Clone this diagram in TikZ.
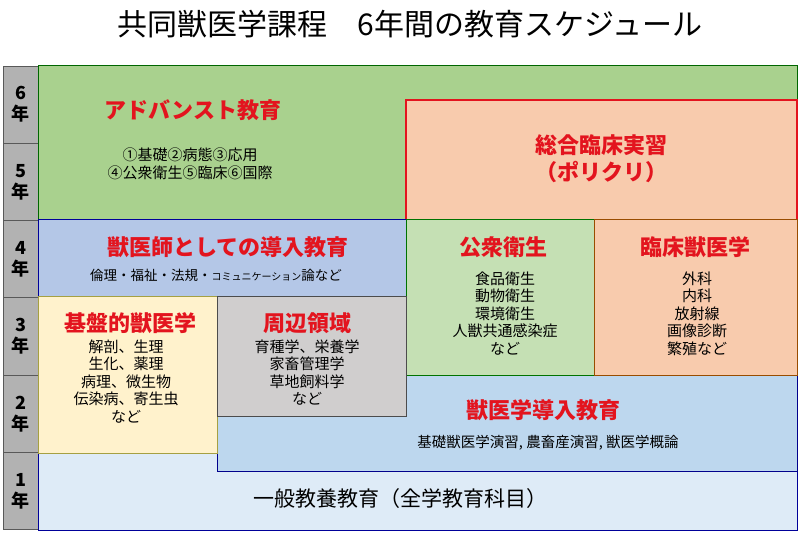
\documentclass[tikz,border=0pt]{standalone}
\usepackage{fontspec}
\setmainfont{Noto Sans CJK JP}
\definecolor{cgreen}{HTML}{A9D18E}
\definecolor{corange}{HTML}{F8CBAD}
\definecolor{cblue}{HTML}{B4C7E7}
\definecolor{cgreen2}{HTML}{C5E0B4}
\definecolor{cyel}{HTML}{FFF2CC}
\definecolor{cgray}{HTML}{D0CECE}
\definecolor{cblue2}{HTML}{BDD7EE}
\definecolor{cblue3}{HTML}{DEEBF7}
\definecolor{cred}{HTML}{E3141E}
\begin{document}
\begin{tikzpicture}[x=1pt,y=-1pt,
  yr/.style={draw=gray!70!black,fill=gray!60,line width=0.8pt},
  hd/.style={text=cred,font=\fontsize{22}{24}\selectfont\bfseries},
  bd/.style={font=\fontsize{15}{17.5}\selectfont,align=center},
  bx/.style={line width=1pt}]
\useasboundingbox (0,0) rectangle (800,534);
\node (title) at (410,24) {\fontsize{30}{32}\selectfont 共同獣医学課程\hspace{1em}6年間の教育スケジュール};
\foreach \i/\t in {1/6,2/5,3/4,4/3,5/2,6/1}{
  \pgfmathsetmacro\ya{66+(\i-1)*77.3}
  \pgfmathsetmacro\yb{66+\i*77.3}
  \draw[yr] (3,\ya) rectangle (38,\yb);
  \node[font=\fontsize{18}{21}\selectfont\bfseries,align=center] (y\t) at (20.5,{(\ya+\yb)/2}) {\t\\年};
}
\draw[bx,draw=blue!60!black,fill=cblue3] (38,452) rectangle (797,530);
\draw[bx,draw=blue!55!black,fill=cblue2] (217,416) -- (406,416) -- (406,375) -- (797,375) -- (797,471) -- (217,471) -- cycle;
\draw[bx,draw=green!40!black,fill=cgreen] (38,66) rectangle (797,220);
\draw[line width=1.8pt,draw=cred,fill=corange] (406,100) rectangle (797,220);
\draw[bx,draw=blue!60!black,fill=cblue] (38,220) rectangle (406,297);
\draw[bx,draw=green!45!black,fill=cgreen2] (406,220) rectangle (594,375);
\draw[bx,draw=orange!60!black,fill=corange] (594,220) rectangle (797,375);
\draw[bx,draw=yellow!60!black,fill=cyel] (38,297) rectangle (217,453);
\draw[bx,draw=gray!60!black,fill=cgray] (217,297) rectangle (406,416);
\node[hd] (adv) at (193,110) {アドバンスト教育};
\node[bd] (advb) at (190,164) {①基礎②病態③応用\\④公衆衛生⑤臨床⑥国際};
\node[hd,font=\fontsize{22}{27}\selectfont\bfseries,align=center] (poli) at (601,159) {総合臨床実習\\（ポリクリ）};
\node[hd] (intro) at (228,247) {獣医師としての導入教育};
\node[font=\fontsize{13.5}{15}\selectfont] (introb) at (216,275) {倫理・福祉・法規・{\fontsize{10}{10}\selectfont コミュニケーション}論など};
\node[hd] (pub) at (503,247) {公衆衛生};
\node[bd,anchor=north] (pubb) at (505,268) {食品衛生\\動物衛生\\環境衛生\\人獣共通感染症\\など};
\node[hd] (clin) at (695,247) {臨床獣医学};
\node[bd,anchor=north] (clinb) at (697,268) {外科\\内科\\放射線\\画像診断\\繁殖など};
\node[hd] (basic) at (130,323) {基盤的獣医学};
\node[bd,anchor=north] (basicb) at (126,336) {解剖、生理\\生化、薬理\\病理、微生物\\伝染病、寄生虫\\など};
\node[hd] (peri) at (307,323) {周辺領域};
\node[bd,anchor=north] (perib) at (307,336) {育種学、栄養学\\家畜管理学\\草地飼料学\\など};
\node[hd] (vet) at (543,410) {獣医学導入教育};
\node[font=\fontsize{14.5}{16}\selectfont] (vetb) at (548,443) {基礎獣医学演習, 農畜産演習, 獣医学概論};
\node[font=\fontsize{21}{23}\selectfont] (gen) at (400,499) {一般教養教育（全学教育科目）};
\end{tikzpicture}
\end{document}
